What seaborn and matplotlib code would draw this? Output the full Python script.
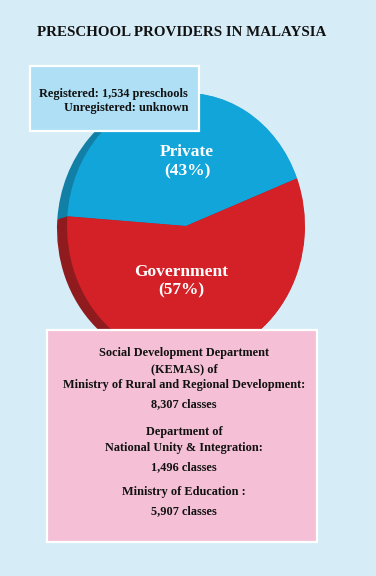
import numpy as np
import matplotlib
matplotlib.use("Agg")
import matplotlib.pyplot as plt
from matplotlib.patches import Rectangle
import seaborn as sns

# ---- data ----
providers = ["Private", "Government"]
shares = [43, 57]
face_colors = ["#12a5d9", "#d42127"]
side_colors = ["#127fa6", "#8f1b1f"]

title = "PRESCHOOL PROVIDERS IN MALAYSIA"
registered_lines = ["Registered: 1,534 preschools", "Unregistered: unknown"]
gov_lines = [
    ("Social Development Department", 353),
    ("(KEMAS) of", 369),
    ("Ministry of Rural and Regional Development:", 385),
    ("8,307 classes", 404),
    ("Department of", 432),
    ("National Unity & Integration:", 448),
    ("1,496 classes", 467),
    ("Ministry of Education :", 492),
    ("5,907 classes", 511),
]

sns.set_theme(style="white")
BG = "#d6ecf7"
plt.rcParams['font.family'] = ['Liberation Serif', 'DejaVu Serif']

W, H = 376, 576
fig = plt.figure(figsize=(W / 100, H / 100), dpi=100, facecolor=BG)

# pie axes covering whole figure; unit x = rx px, unit y = ry px
cx, cy = 186, 226
rx, ry = 119, 133
ax = fig.add_axes([0, 0, 1, 1])
ax.set_zorder(1)
ax.patch.set_alpha(0)

start = 21
off_x, off_y = -10 / rx, -3 / ry
for t in np.linspace(1, 0.05, 10):
    ax.pie(shares, colors=side_colors, startangle=start, counterclock=True,
           center=(off_x * t, off_y * t), radius=1,
           wedgeprops=dict(linewidth=0))
ax.pie(shares, colors=face_colors, startangle=start, counterclock=True,
       center=(0, 0), radius=1, wedgeprops=dict(linewidth=0))
ax.set_aspect('auto')
ax.set_xlim(-cx / rx, (W - cx) / rx)
ax.set_ylim(-(H - cy) / ry, cy / ry)
ax.axis('off')

# overlay in pixel coordinates
ov = fig.add_axes([0, 0, 1, 1])
ov.set_zorder(3)
ov.patch.set_alpha(0)
ov.set_xlim(0, W)
ov.set_ylim(H, 0)
ov.axis('off')

ov.text(182, 33, title, ha='center', va='center', fontsize=10.8,
        fontweight='bold', color='#111111')

# slice labels
ov.text(187, 162, f"{providers[0]}\n({shares[0]}%)", ha='center', va='center',
        fontsize=12.5, fontweight='bold', color='white', linespacing=1.25)
ov.text(181, 281, f"{providers[1]}\n({shares[1]}%)", ha='center', va='center',
        fontsize=12.5, fontweight='bold', color='white', linespacing=1.25)

# registered box
ov.add_patch(Rectangle((30, 66), 169, 65, facecolor="#aedff5",
                       edgecolor='white', linewidth=1.6))
ov.text(188, 94, registered_lines[0], ha='right', va='center',
        fontsize=8.8, fontweight='bold', color='#111111')
ov.text(188, 108, registered_lines[1], ha='right', va='center',
        fontsize=8.8, fontweight='bold', color='#111111')

# government provider box
ov.add_patch(Rectangle((47, 330), 270, 212, facecolor="#f5c0d6",
                       edgecolor='white', linewidth=1.6))
for txt, y in gov_lines:
    ov.text(184, y, txt, ha='center', va='center', fontsize=8.85,
            fontweight='bold', color='#111111')

fig.savefig("out.png", dpi=100, facecolor=BG)
